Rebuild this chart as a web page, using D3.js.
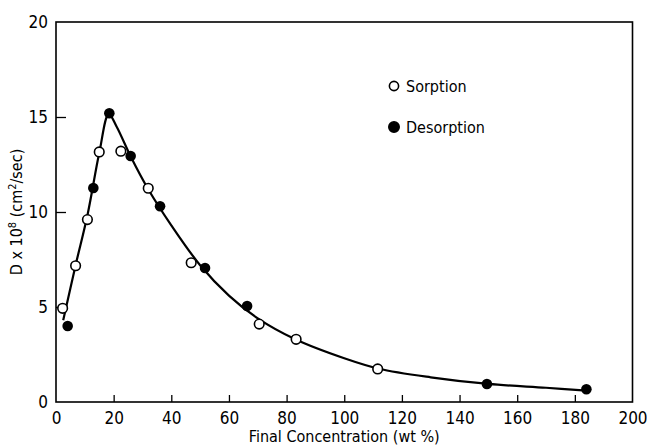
<!DOCTYPE html>
<html><head><meta charset="utf-8">
<script src="https://cdn.jsdelivr.net/npm/d3@7"></script>
<style>body{margin:0;background:#fff}svg{display:block}</style>
</head><body>
<script>
const sorptionX = [2.3, 6.8, 10.9, 15.0, 22.5, 32.0, 46.9, 70.5, 83.3, 111.6];
const sorptionD = [4.93, 7.17, 9.6, 13.16, 13.2, 11.25, 7.33, 4.1, 3.3, 1.74];
const desorptionX = [4.05, 12.95, 18.5, 25.9, 36.1, 51.7, 66.3, 149.5, 184];
const desorptionD = [4.0, 11.26, 15.2, 12.95, 10.3, 7.05, 5.05, 0.95, 0.67];
const curveX = [2.5, 6.8, 11, 15, 18.3, 21, 26, 32, 40, 50, 60, 70, 83, 100, 112, 130, 150, 170, 184];
const curveD = [4.3, 7.2, 9.9, 13.1, 15.15, 14.5, 12.9, 11.2, 9.3, 7.2, 5.6, 4.4, 3.3, 2.3, 1.75, 1.3, 0.95, 0.75, 0.6];
const xTicks = [0, 20, 40, 60, 80, 100, 120, 140, 160, 180, 200];
const yTicks = [0, 5, 10, 15, 20];
const legendLabels = ["Sorption", "Desorption"];

const W = 647, H = 447;
const svg = d3.select("body").append("svg").attr("width", W).attr("height", H);
const x = d3.scaleLinear().domain([0, 200]).range([56, 632.5]);
const y = d3.scaleLinear().domain([0, 20]).range([402, 22]);
const font = "'DejaVu Sans Condensed','Liberation Sans Narrow',sans-serif";

// frame
svg.append("rect").attr("x", x(0)).attr("y", y(20)).attr("width", x(200) - x(0)).attr("height", y(0) - y(20))
  .attr("fill", "none").attr("stroke", "#000").attr("stroke-width", 1.6);

const xAxis = svg.append("g").attr("transform", `translate(0,${y(0)})`)
  .call(d3.axisBottom(x).tickValues(xTicks).tickSizeInner(-7).tickSizeOuter(0).tickPadding(10));
const yAxis = svg.append("g").attr("transform", `translate(${x(0)},0)`)
  .call(d3.axisLeft(y).tickValues(yTicks).tickSizeInner(-10).tickSizeOuter(0).tickPadding(8));
[xAxis, yAxis].forEach(g => {
  g.select(".domain").remove();
  g.selectAll("line").attr("stroke", "#000").attr("stroke-width", 1.3);
  g.selectAll("text").attr("font-family", font).attr("font-size", 17).attr("fill", "#000");
});
xAxis.selectAll("line").filter(d => d === 0 || d === 200).remove();
yAxis.selectAll("line").filter(d => d === 0 || d === 20).remove();

// curve
const curvePts = curveX.map((v, i) => [v, curveD[i]]);
svg.append("path").datum(curvePts)
  .attr("d", d3.line().x(d => x(d[0])).y(d => y(d[1])).curve(d3.curveCatmullRom.alpha(0.5)))
  .attr("fill", "none").attr("stroke", "#000").attr("stroke-width", 2.2);

// points
const sPts = sorptionX.map((v, i) => [v, sorptionD[i]]);
const dPts = desorptionX.map((v, i) => [v, desorptionD[i]]);
svg.append("g").selectAll("circle").data(sPts).join("circle")
  .attr("cx", d => x(d[0])).attr("cy", d => y(d[1])).attr("r", 4.8)
  .attr("fill", "#fff").attr("stroke", "#000").attr("stroke-width", 1.6);
svg.append("g").selectAll("circle").data(dPts).join("circle")
  .attr("cx", d => x(d[0])).attr("cy", d => y(d[1])).attr("r", 5.3)
  .attr("fill", "#000");

// legend
const lg = svg.append("g");
legendLabels.forEach((t, i) => {
  const cy = 86 + i * 41;
  lg.append("circle").attr("cx", 394).attr("cy", cy).attr("r", i === 0 ? 4.6 : 5.2)
    .attr("fill", i === 0 ? "#fff" : "#000").attr("stroke", "#000").attr("stroke-width", 1.6);
  lg.append("text").attr("x", 406).attr("y", cy + 5.5).text(t)
    .attr("font-family", font).attr("font-size", 16).attr("fill", "#000");
});

// axis titles
svg.append("text").attr("x", (x(0) + x(200)) / 2).attr("y", 442).attr("text-anchor", "middle")
  .attr("font-family", font).attr("font-size", 16).text("Final Concentration (wt %)");
const yl = svg.append("text").attr("transform", `translate(22,${y(10)}) rotate(-90)`).attr("text-anchor", "middle")
  .attr("font-family", font).attr("font-size", 16);
yl.append("tspan").text("D x 10");
yl.append("tspan").attr("dy", -6).attr("font-size", 11).text("8");
yl.append("tspan").attr("dy", 6).text(" (cm");
yl.append("tspan").attr("dy", -6).attr("font-size", 11).text("2");
yl.append("tspan").attr("dy", 6).text("/sec)");
</script>
</body></html>
